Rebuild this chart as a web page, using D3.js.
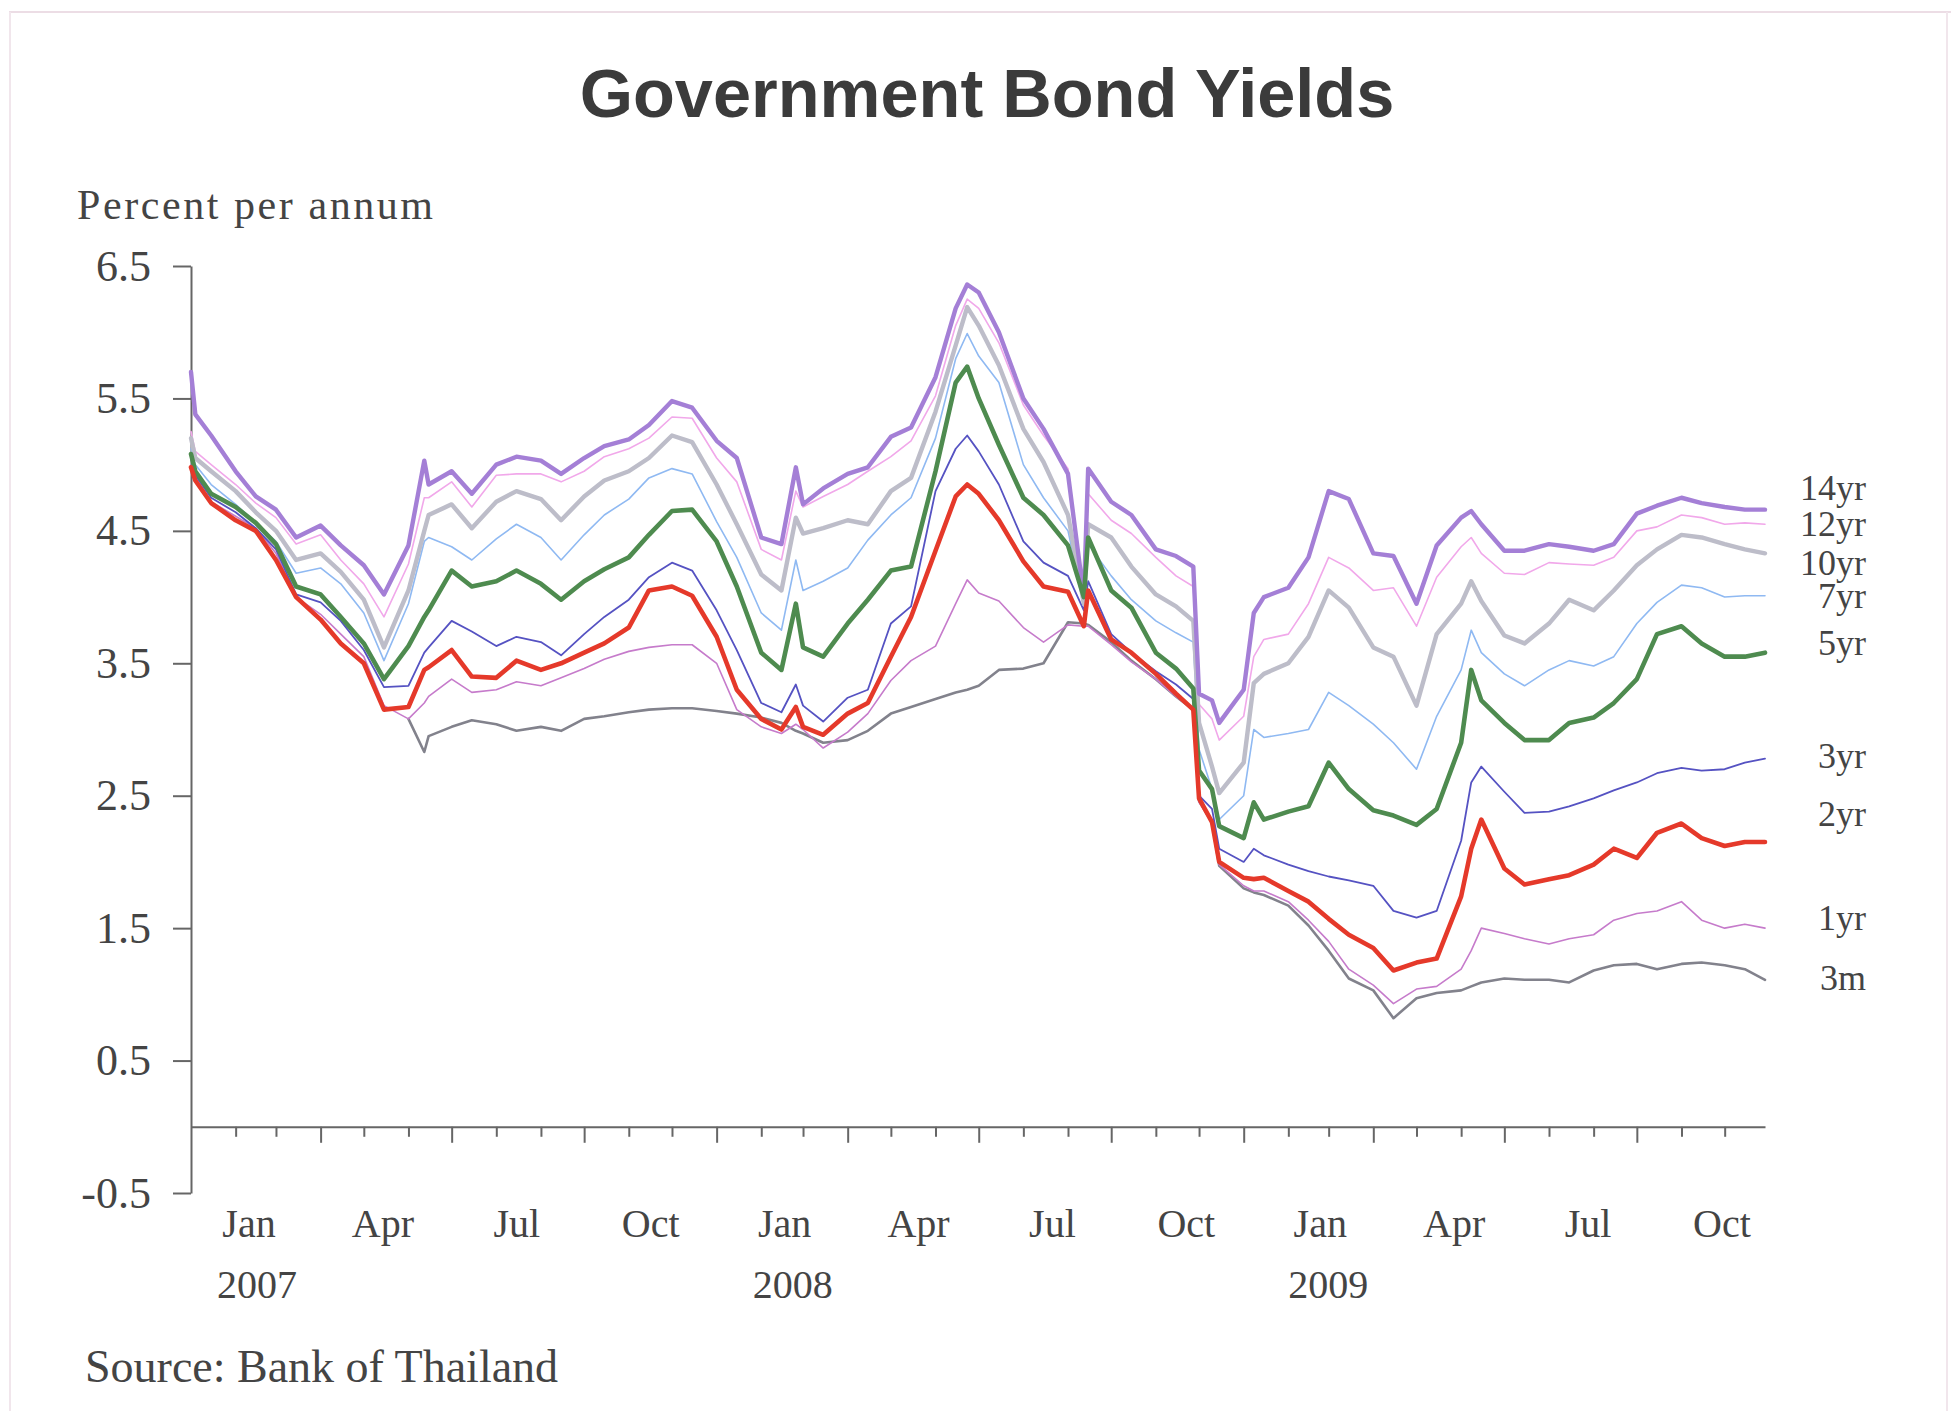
<!DOCTYPE html>
<html><head><meta charset="utf-8">
<script src="https://cdn.jsdelivr.net/npm/d3@7"></script>
<style>
html,body{margin:0;padding:0;background:#fff;}
svg{display:block;}
</style></head>
<body>
<svg id="chart" width="1960" height="1411"></svg>
<script>
// ---------------- DATA ----------------
const dates = [
"2007-01-01","2007-01-04","2007-01-15","2007-02-01","2007-02-15","2007-03-01","2007-03-15","2007-04-01","2007-04-15","2007-05-01","2007-05-15","2007-06-01","2007-06-12","2007-06-15","2007-07-01","2007-07-15","2007-08-01","2007-08-15","2007-09-01","2007-09-15","2007-10-01","2007-10-15","2007-11-01","2007-11-15","2007-12-01","2007-12-15",
"2008-01-01","2008-01-15","2008-02-01","2008-02-15","2008-02-25","2008-03-01","2008-03-15","2008-04-01","2008-04-15","2008-05-01","2008-05-15","2008-06-01","2008-06-15","2008-06-23","2008-07-01","2008-07-15","2008-08-01","2008-08-15","2008-09-01","2008-09-12","2008-09-15","2008-10-01","2008-10-15","2008-11-01","2008-11-15","2008-11-27","2008-12-01","2008-12-10","2008-12-15",
"2009-01-01","2009-01-08","2009-01-15","2009-02-01","2009-02-15","2009-03-01","2009-03-15","2009-04-01","2009-04-15","2009-05-01","2009-05-15","2009-06-01","2009-06-08","2009-06-15","2009-07-01","2009-07-15","2009-08-01","2009-08-15","2009-09-01","2009-09-15","2009-10-01","2009-10-15","2009-11-01","2009-11-15","2009-12-01","2009-12-15","2009-12-29"
];

const yr14 = [
5.70,5.38,5.22,4.95,4.76,4.66,4.45,4.54,4.39,4.24,4.02,4.39,5.03,4.85,4.95,4.78,5.00,5.06,5.03,4.93,5.05,5.14,5.19,5.30,5.48,5.43,
5.18,5.05,4.45,4.40,4.98,4.70,4.82,4.93,4.98,5.21,5.28,5.66,6.18,6.36,6.30,6.00,5.50,5.27,4.93,4.00,4.97,4.72,4.62,4.36,4.31,4.23,3.27,3.22,3.05,
3.30,3.88,4.00,4.07,4.30,4.80,4.74,4.33,4.31,3.95,4.39,4.60,4.65,4.55,4.35,4.35,4.40,4.38,4.35,4.40,4.63,4.69,4.75,4.71,4.68,4.66,4.66
];
const yr12 = [
5.25,5.10,5.00,4.85,4.71,4.60,4.40,4.47,4.28,4.10,3.85,4.25,4.75,4.75,4.87,4.68,4.92,4.93,4.93,4.87,4.95,5.06,5.12,5.20,5.36,5.35,
5.05,4.87,4.36,4.28,4.80,4.68,4.76,4.85,4.95,5.06,5.18,5.52,6.05,6.25,6.18,5.92,5.45,5.22,4.97,3.95,4.78,4.58,4.48,4.30,4.16,4.08,3.19,3.08,2.92,
3.10,3.55,3.68,3.72,3.95,4.30,4.22,4.05,4.07,3.78,4.15,4.38,4.45,4.33,4.18,4.17,4.26,4.25,4.24,4.30,4.50,4.53,4.62,4.60,4.55,4.56,4.55
];
const yr10 = [
5.20,5.05,4.95,4.80,4.64,4.50,4.28,4.33,4.19,3.98,3.62,4.05,4.50,4.62,4.70,4.52,4.72,4.80,4.74,4.58,4.76,4.88,4.95,5.05,5.22,5.17,
4.85,4.55,4.17,4.05,4.60,4.48,4.52,4.58,4.55,4.80,4.90,5.40,5.90,6.19,6.05,5.75,5.27,5.02,4.62,3.95,4.55,4.45,4.23,4.02,3.93,3.82,3.05,2.72,2.52,
2.75,3.35,3.42,3.50,3.70,4.05,3.92,3.62,3.55,3.18,3.72,3.95,4.12,3.97,3.71,3.65,3.80,3.98,3.90,4.05,4.24,4.36,4.47,4.45,4.40,4.36,4.33
];
const yr7 = [
5.12,5.00,4.85,4.70,4.56,4.42,4.18,4.22,4.10,3.88,3.52,3.95,4.42,4.45,4.38,4.28,4.44,4.55,4.45,4.28,4.47,4.62,4.74,4.90,4.97,4.93,
4.57,4.30,3.88,3.75,4.28,4.05,4.12,4.22,4.43,4.62,4.75,5.20,5.80,5.99,5.82,5.62,5.00,4.75,4.50,3.95,4.40,4.16,3.98,3.82,3.73,3.66,2.85,2.55,2.32,
2.50,3.00,2.94,2.97,3.00,3.28,3.18,3.04,2.90,2.70,3.10,3.45,3.75,3.58,3.42,3.33,3.45,3.52,3.48,3.55,3.80,3.96,4.09,4.07,4.00,4.01,4.01
];
const yr5 = [
5.08,4.95,4.78,4.68,4.56,4.40,4.08,4.02,3.85,3.65,3.38,3.63,3.85,3.90,4.20,4.08,4.12,4.20,4.10,3.98,4.12,4.21,4.30,4.47,4.65,4.66,
4.42,4.08,3.58,3.45,3.95,3.62,3.55,3.80,3.98,4.20,4.23,4.95,5.62,5.74,5.50,5.15,4.75,4.62,4.39,4.00,4.45,4.05,3.92,3.58,3.46,3.31,2.69,2.55,2.27,
2.18,2.45,2.32,2.38,2.42,2.75,2.55,2.39,2.35,2.28,2.40,2.90,3.45,3.22,3.05,2.92,2.92,3.05,3.09,3.20,3.38,3.72,3.78,3.65,3.55,3.55,3.58
];
const yr3 = [
5.05,4.92,4.75,4.64,4.52,4.36,4.02,3.96,3.82,3.60,3.32,3.33,3.58,3.62,3.82,3.74,3.63,3.70,3.66,3.56,3.72,3.85,3.98,4.15,4.26,4.20,
3.90,3.60,3.20,3.13,3.34,3.18,3.06,3.24,3.30,3.80,3.93,4.80,5.12,5.22,5.10,4.85,4.42,4.26,4.16,3.90,4.12,3.72,3.58,3.44,3.34,3.23,2.50,2.40,2.10,
2.00,2.10,2.05,1.98,1.93,1.89,1.86,1.82,1.63,1.58,1.63,2.16,2.60,2.72,2.53,2.37,2.38,2.42,2.48,2.54,2.60,2.67,2.71,2.69,2.70,2.75,2.78
];
const yr2 = [
4.98,4.88,4.71,4.58,4.50,4.28,4.00,3.83,3.65,3.50,3.15,3.17,3.45,3.47,3.60,3.40,3.39,3.52,3.45,3.50,3.58,3.65,3.77,4.05,4.08,4.01,
3.70,3.30,3.08,3.00,3.17,3.02,2.96,3.12,3.20,3.55,3.85,4.35,4.76,4.85,4.78,4.58,4.27,4.08,4.04,3.78,4.05,3.68,3.58,3.42,3.27,3.15,2.48,2.30,2.00,
1.88,1.87,1.88,1.78,1.70,1.57,1.45,1.35,1.18,1.24,1.27,1.74,2.10,2.32,1.95,1.83,1.87,1.90,1.98,2.10,2.03,2.22,2.29,2.18,2.12,2.15,2.15
];
const yr1 = [
5.00,4.90,4.72,4.61,4.52,4.33,4.00,3.87,3.72,3.55,3.18,3.08,3.20,3.25,3.38,3.28,3.30,3.36,3.33,3.39,3.46,3.53,3.59,3.62,3.64,3.64,
3.50,3.15,3.02,2.97,3.04,3.00,2.86,2.98,3.12,3.37,3.52,3.63,3.95,4.13,4.03,3.97,3.77,3.66,3.79,3.78,3.78,3.64,3.51,3.38,3.25,3.15,2.45,2.30,1.98,
1.82,1.78,1.78,1.70,1.56,1.40,1.19,1.07,0.93,1.04,1.06,1.19,1.33,1.50,1.46,1.42,1.38,1.42,1.45,1.56,1.61,1.63,1.70,1.56,1.50,1.53,1.50
];
const m3 = [
null,null,null,null,null,null,null,null,null,null,null,3.08,2.83,2.95,3.02,3.07,3.04,2.99,3.02,2.99,3.08,3.10,3.13,3.15,3.16,3.16,
3.14,3.12,3.09,3.05,2.99,2.97,2.90,2.92,2.99,3.12,3.17,3.23,3.28,3.30,3.33,3.45,3.46,3.50,3.81,3.80,3.79,3.66,3.52,3.38,3.25,3.15,2.46,2.30,1.97,
1.80,1.77,1.75,1.67,1.52,1.33,1.12,1.03,0.82,0.97,1.01,1.03,1.06,1.09,1.12,1.11,1.11,1.09,1.18,1.22,1.23,1.19,1.23,1.24,1.22,1.19,1.11
];

const seriesNames  = ["3m","1yr","3yr","7yr","12yr","10yr","14yr","5yr","2yr"];
const seriesValues = [m3, yr1, yr3, yr7, yr12, yr10, yr14, yr5, yr2];
// right-hand label anchors (percent per annum)
const labelNames  = ["14yr","12yr","10yr","7yr","5yr","3yr","2yr","1yr","3m"];
const labelValues = [4.82, 4.55, 4.26, 4.01, 3.65, 2.80, 2.36, 1.58, 1.12];

const yTicks = [-0.5, 0.5, 1.5, 2.5, 3.5, 4.5, 5.5, 6.5];
const quarterLabels = ["Jan","Apr","Jul","Oct","Jan","Apr","Jul","Oct","Jan","Apr","Jul","Oct"];
const yearLabels = ["2007","2008","2009"];

// ---------------- STYLES ----------------
const styles = {
  "14yr": {color:"#a47fd6", width:4.4},
  "12yr": {color:"#f1a8ea", width:1.6},
  "10yr": {color:"#bdbdc9", width:4.4},
  "7yr":  {color:"#8fb9f2", width:1.6},
  "5yr":  {color:"#4e8b4f", width:4.6},
  "3yr":  {color:"#5552c2", width:1.8},
  "2yr":  {color:"#e5392a", width:4.6},
  "1yr":  {color:"#c67bcb", width:1.6},
  "3m":   {color:"#82828c", width:2.6}
};
const textColor = "#444";
const axisColor = "#666";
const serif = "'Liberation Serif','Times New Roman',serif";

// ---------------- CHART ----------------
const svg = d3.select("#chart");
const parse = d3.utcParse("%Y-%m-%d");
const dateObjs = dates.map(parse);

const x = d3.scaleUtc().domain([parse("2007-01-01"), parse("2009-12-29")]).range([191, 1765]);
const y = d3.scaleLinear().domain([-0.5, 6.5]).range([1193, 266]);

// frame (scanned page border)
svg.append("line").attr("x1",9).attr("x2",1951).attr("y1",12).attr("y2",12).attr("stroke","#ecdde5").attr("stroke-width",2);
svg.append("line").attr("x1",10).attr("x2",10).attr("y1",12).attr("y2",1411).attr("stroke","#f1e6ec").attr("stroke-width",2);
svg.append("line").attr("x1",1947).attr("x2",1947).attr("y1",12).attr("y2",1411).attr("stroke","#f1e6ec").attr("stroke-width",2);

// title
svg.append("text").attr("x",987).attr("y",117).attr("text-anchor","middle")
  .attr("font-family","'Liberation Sans',Arial,Helvetica,sans-serif").attr("font-weight","bold")
  .attr("font-size",68.5).attr("fill","#3b3b3b").text("Government Bond Yields");

// y axis title
svg.append("text").attr("x",77).attr("y",219).attr("font-family",serif).attr("font-size",42)
  .attr("textLength",356).attr("lengthAdjust","spacing")
  .attr("fill",textColor).text("Percent per annum");

// y axis
const yAxis = svg.append("g").attr("transform","translate(191,0)")
  .call(d3.axisLeft(y).tickValues(yTicks).tickSize(18).tickSizeOuter(0).tickPadding(22)
        .tickFormat(d => d.toFixed(1)));
yAxis.selectAll("path,line").attr("stroke",axisColor).attr("stroke-width",2);
yAxis.selectAll("text").attr("font-family",serif).attr("font-size",44).attr("fill",textColor);

// x axis on the zero line
const monthTicks = d3.utcMonth.range(parse("2007-02-01"), parse("2009-12-02"));
const xAxis = svg.append("g").attr("transform",`translate(0,${y(0)})`)
  .call(d3.axisBottom(x).tickValues(monthTicks).tickSize(10).tickSizeOuter(0).tickFormat(""));
xAxis.selectAll("path,line").attr("stroke",axisColor).attr("stroke-width",2);
xAxis.selectAll(".tick line").attr("y2", d => d.getUTCMonth() % 3 === 0 ? 16 : 10);

// quarter labels
const quarterKeys = quarterLabels.map((l,i) => i);
const qScale = d3.scalePoint().domain(quarterKeys).range([249, 1722]);
svg.append("g").selectAll("text").data(quarterLabels).join("text")
  .attr("x",(d,i) => qScale(i)).attr("y",1237).attr("text-anchor","middle")
  .attr("font-family",serif).attr("font-size",40).attr("fill",textColor).text(d => d);
svg.append("g").selectAll("text").data(yearLabels).join("text")
  .attr("x",(d,i) => qScale(i*4) + 8).attr("y",1298).attr("text-anchor","middle")
  .attr("font-family",serif).attr("font-size",40).attr("fill",textColor).text(d => d);

// lines
const line = d3.line().defined(d => d.v != null).x(d => x(d.date)).y(d => y(d.v));
const plot = svg.append("g");
seriesNames.forEach((name, si) => {
  const pts = seriesValues[si].map((v, i) => ({date: dateObjs[i], v}));
  plot.append("path").datum(pts).attr("d", line)
    .attr("fill","none").attr("stroke", styles[name].color).attr("stroke-width", styles[name].width)
    .attr("stroke-linejoin","round").attr("stroke-linecap","round");
});

// right-hand labels
svg.append("g").selectAll("text").data(labelNames).join("text")
  .attr("x",1866).attr("y",(d,i) => y(labelValues[i]) + 12).attr("text-anchor","end")
  .attr("font-family",serif).attr("font-size",36).attr("fill",textColor).text(d => d);

// source
svg.append("text").attr("x",85).attr("y",1382).attr("font-family",serif).attr("font-size",46)
  .attr("fill",textColor).text("Source: Bank of Thailand");
</script>
</body></html>
